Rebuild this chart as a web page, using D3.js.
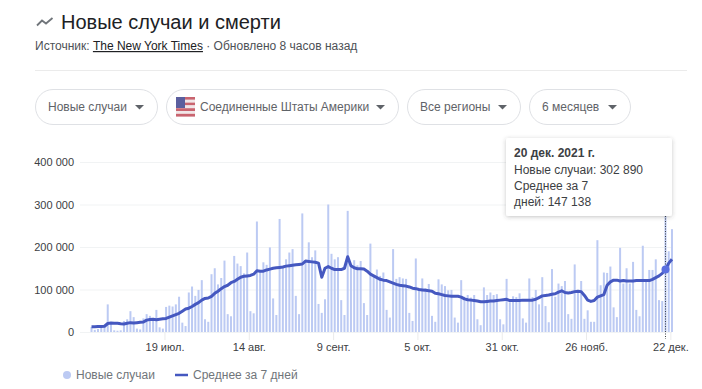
<!DOCTYPE html>
<html>
<head>
<meta charset="utf-8">
<style>
  html, body { margin: 0; padding: 0; background: #fff; overflow: hidden; }
  text { font-family: "Liberation Sans", Arial, sans-serif; }
</style>
<script src="https://cdn.jsdelivr.net/npm/d3@7"></script>
</head>
<body>
<div id="chart"></div>
<script>
// daily values, first bar is 26 june 2021
var firstDay = new Date(2021, 5, 26)

var newCases = [
  12000, 5000, 7000, 10000, 12000, 65000, 20000, 4000, 3000, 4000,
  26000, 30000, 49000, 35000, 8000, 6000, 32000, 42000, 38000, 33000,
  52000, 11000, 8000, 59000, 62000, 60000, 65000, 83000, 22000, 14000,
  93000, 107000, 85000, 99000, 122000, 30000, 24000, 136000, 150000, 112000,
  127000, 168000, 42000, 37000, 179000, 161000, 155000, 138000, 187000, 49000,
  44000, 260000, 146000, 164000, 158000, 199000, 79000, 40000, 266000, 154000,
  171000, 187000, 195000, 85000, 42000, 279000, 165000, 211000, 176000, 192000,
  66000, 45000, 77000, 300000, 184000, 171000, 176000, 75000, 40000, 285000,
  157000, 169000, 157000, 167000, 68000, 40000, 208000, 134000, 147000, 132000,
  140000, 52000, 34000, 195000, 125000, 129000, 126000, 125000, 45000, 26000,
  173000, 102000, 126000, 103000, 113000, 38000, 24000, 124000, 112000, 108000,
  98000, 99000, 34000, 22000, 122000, 83000, 87000, 81000, 87000, 30000,
  16000, 105000, 87000, 93000, 87000, 89000, 30000, 18000, 125000, 70000,
  84000, 82000, 91000, 32000, 22000, 126000, 82000, 99000, 65000, 129000,
  61000, 23000, 148000, 83000, 114000, 108000, 120000, 42000, 31000, 159000,
  93000, 120000, 31000, 51000, 24000, 24000, 216000, 110000, 140000, 139000,
  154000, 58000, 35000, 198000, 114000, 150000, 114000, 165000, 52000, 37000,
  203000, 124000, 146000, 146000, 171000, 75000, 73000, 302890, 190000, 242000
]

var avgCases = [
  12500, 12500, 13000, 13000, 13500, 20000, 21000, 20500, 20500, 19500,
  19000, 20500, 22000, 21000, 22000, 23000, 23500, 28000, 29500, 30000,
  29000, 30000, 31000, 32000, 35000, 38000, 41000, 44000, 49000, 54000,
  56000, 60000, 65000, 69000, 75000, 79000, 80000, 84000, 91000, 96000,
  102000, 107000, 110000, 116000, 119000, 124000, 129000, 131000, 132000, 133000,
  136000, 144000, 143000, 143000, 146000, 148000, 150000, 151000, 152000, 153000,
  155000, 156000, 157000, 158000, 159000, 160000, 167000, 166000, 165000, 164000,
  162000, 129000, 150000, 154000, 150000, 147000, 147000, 147000, 150000, 177000,
  156000, 151000, 149000, 149000, 148000, 143000, 136000, 132000, 128000, 124000,
  122000, 121000, 118000, 115000, 112000, 110000, 109000, 108000, 106000, 103000,
  102000, 100000, 99000, 98000, 97000, 96000, 91000, 90000, 88000, 86000,
  85000, 84000, 84000, 84000, 82000, 78000, 76000, 75000, 74000, 73000,
  71000, 71000, 72000, 73000, 73000, 74000, 75000, 76000, 77000, 74000,
  74000, 74000, 74000, 75000, 75000, 75000, 75000, 77000, 81000, 85000,
  86000, 87000, 89000, 90000, 94000, 97000, 93000, 92000, 93000, 95000,
  96000, 95000, 86000, 75000, 72000, 74000, 82000, 85000, 88000, 110000,
  118000, 122000, 122000, 120000, 121000, 120000, 120000, 120000, 121000, 121000,
  121000, 121000, 121000, 124000, 128000, 132000, 138000, 147138, 162000, 171000
]

var yTicks = [0, 100000, 200000, 300000, 400000]
var tickDays = [new Date(2021, 6, 19), new Date(2021, 7, 14), new Date(2021, 8, 9), new Date(2021, 9, 5),
  new Date(2021, 9, 31), new Date(2021, 10, 26), new Date(2021, 11, 22)]
var tickLabels = ["19 июл.", "14 авг.", "9 сент.", "5 окт.", "31 окт.", "26 нояб.", "22 дек."]

var chipLabels = ["Новые случаи", "Соединенные Штаты Америки", "Все регионы", "6 месяцев"]
var chipLefts = [35, 166, 407, 529]
var chipRights = [157, 398, 520, 630]
var tooltipLines = ["Новые случаи: 302 890", "Среднее за 7", "дней: 147 138"]

var width = 702
var height = 389

var svg = d3.select("#chart")
  .append("svg")
  .attr("width", width)
  .attr("height", height)
  .style("display", "block")

var defs = svg.append("defs")
var shadow = defs.append("filter").attr("id", "shadow")
  .attr("x", "-10%").attr("y", "-10%").attr("width", "120%").attr("height", "125%")
shadow.append("feDropShadow")
  .attr("dx", 0).attr("dy", 1).attr("stdDeviation", 2)
  .attr("flood-color", "#3c4043").attr("flood-opacity", 0.3)

// header
svg.append("path")
  .attr("d", d3.line()([[37, 25.5], [42, 20.5], [46, 23.5], [52.5, 18]]))
  .attr("fill", "none")
  .attr("stroke", "#70757a")
  .attr("stroke-width", 1.8)

svg.append("text")
  .attr("x", 61).attr("y", 29)
  .attr("font-size", 20)
  .attr("fill", "#202124")
  .text("Новые случаи и смерти")

var source = svg.append("text")
  .attr("x", 35).attr("y", 50)
  .attr("font-size", 12)
  .attr("fill", "#4d5156")
source.append("tspan").text("Источник: ")
source.append("tspan").attr("fill", "#202124").attr("text-decoration", "underline").text("The New York Times")
source.append("tspan").text(" · Обновлено 8 часов назад")

svg.append("line")
  .attr("x1", 35).attr("x2", 687)
  .attr("y1", 70.5).attr("y2", 70.5)
  .attr("stroke", "#ebebeb")

// filter chips
var chips = svg.selectAll(".chip")
  .data(chipLabels)
  .enter()
  .append("g")
  .attr("class", "chip")

chips.append("rect")
  .attr("x", function (d, i) { return chipLefts[i] + 0.5 })
  .attr("y", 89.5)
  .attr("width", function (d, i) { return chipRights[i] - chipLefts[i] })
  .attr("height", 35)
  .attr("rx", 17.5)
  .attr("fill", "#fff")
  .attr("stroke", "#dfe1e5")

chips.append("text")
  .attr("x", function (d, i) { return chipLefts[i] + (i === 1 ? 34 : 13) })
  .attr("y", 111)
  .attr("font-size", 12)
  .attr("fill", "#5f6368")
  .text(function (d) { return d })

chips.append("path")
  .attr("d", function (d, i) {
    var x = chipRights[i] - 22
    return "M" + x + " 105l9 0l-4.5 4.5z"
  })
  .attr("fill", "#5f6368")

// small flag in the second chip
var flag = svg.append("g").attr("transform", "translate(176,97)")
d3.range(7).forEach(function (i) {
  flag.append("rect")
    .attr("x", 0).attr("y", i * 2.8)
    .attr("width", 19).attr("height", 2.8)
    .attr("fill", i % 2 ? "#f1e6e8" : "#c9646f")
})
flag.append("rect").attr("width", 9).attr("height", 11).attr("fill", "#5b5f9e")

// scales
var x = d3.scaleTime()
  .domain([firstDay, d3.timeDay.offset(firstDay, 180)])
  .range([89.9, 673.6])

var y = d3.scaleLinear()
  .domain([0, 400000])
  .range([332, 162])

var step = x(d3.timeDay.offset(firstDay, 1)) - x(firstDay)
function dayAt (i) { return d3.timeDay.offset(firstDay, i) }
function centerAt (i) { return x(dayAt(i)) + step / 2 }

// gridlines + y labels
var yAxis = svg.append("g")
  .attr("transform", "translate(80,0)")
  .call(d3.axisLeft(y)
    .tickValues(yTicks)
    .tickSize(-592)
    .tickPadding(6)
    .tickFormat(function (d) { return d3.format(",")(d).replace(/,/g, " ") }))
yAxis.select(".domain").remove()
yAxis.selectAll("line").attr("stroke", "#f1f3f4")
yAxis.selectAll("text")
  .attr("font-size", 11)
  .attr("fill", "#3c4043")
  .style("font-family", "'Liberation Sans', Arial, sans-serif")

// x axis
var xAxis = svg.append("g")
  .attr("transform", "translate(0,332)")
  .call(d3.axisBottom(x)
    .tickValues(tickDays)
    .tickSize(8)
    .tickPadding(3)
    .tickFormat(function (d, i) { return tickLabels[i] }))
xAxis.select(".domain").remove()
xAxis.selectAll("line").attr("stroke", "#ebebeb")
xAxis.selectAll("text")
  .attr("font-size", 11)
  .attr("fill", "#3c4043")
  .style("font-family", "'Liberation Sans', Arial, sans-serif")

// bars
svg.append("g")
  .selectAll("rect")
  .data(newCases)
  .enter()
  .append("rect")
  .attr("x", function (d, i) { return centerAt(i) - 1 })
  .attr("y", function (d) { return y(d) })
  .attr("width", 2)
  .attr("height", function (d) { return y(0) - y(d) })
  .attr("fill", "#bccaf3")

// 7 day average
var avgLine = d3.line()
  .x(function (d, i) { return centerAt(i) })
  .y(function (d) { return y(d) })

svg.append("path")
  .attr("d", avgLine(avgCases))
  .attr("fill", "none")
  .attr("stroke", "#4558c0")
  .attr("stroke-width", 3)
  .attr("stroke-linejoin", "round")

// hovered day
var hoverDay = 177
svg.append("line")
  .attr("x1", centerAt(hoverDay)).attr("x2", centerAt(hoverDay))
  .attr("y1", 216).attr("y2", y(0) + 7)
  .attr("stroke", "#3c4043")
  .attr("stroke-dasharray", "1,1.5")

svg.append("circle")
  .attr("cx", centerAt(hoverDay))
  .attr("cy", y(avgCases[hoverDay]))
  .attr("r", 4)
  .attr("fill", "#5a6fe0")

// tooltip
svg.append("rect")
  .attr("x", 506).attr("y", 138)
  .attr("width", 166).attr("height", 78)
  .attr("rx", 2)
  .attr("fill", "#fff")
  .attr("filter", "url(#shadow)")

svg.append("text")
  .attr("x", 514).attr("y", 157)
  .attr("font-size", 12)
  .attr("font-weight", "bold")
  .attr("fill", "#3c4043")
  .text("20 дек. 2021 г.")

svg.selectAll(".tip-line")
  .data(tooltipLines)
  .enter()
  .append("text")
  .attr("class", "tip-line")
  .attr("x", 514)
  .attr("y", function (d, i) { return 174 + i * 16 })
  .attr("font-size", 12)
  .attr("fill", "#3c4043")
  .text(function (d) { return d })

// legend
svg.append("circle")
  .attr("cx", 67).attr("cy", 375).attr("r", 4)
  .attr("fill", "#bccaf3")
svg.append("text")
  .attr("x", 76).attr("y", 379)
  .attr("font-size", 12)
  .attr("fill", "#70757a")
  .text("Новые случаи")
svg.append("line")
  .attr("x1", 175).attr("x2", 188)
  .attr("y1", 375).attr("y2", 375)
  .attr("stroke", "#4558c0")
  .attr("stroke-width", 2.5)
svg.append("text")
  .attr("x", 193).attr("y", 379)
  .attr("font-size", 12)
  .attr("fill", "#70757a")
  .text("Среднее за 7 дней")
</script>
</body>
</html>
